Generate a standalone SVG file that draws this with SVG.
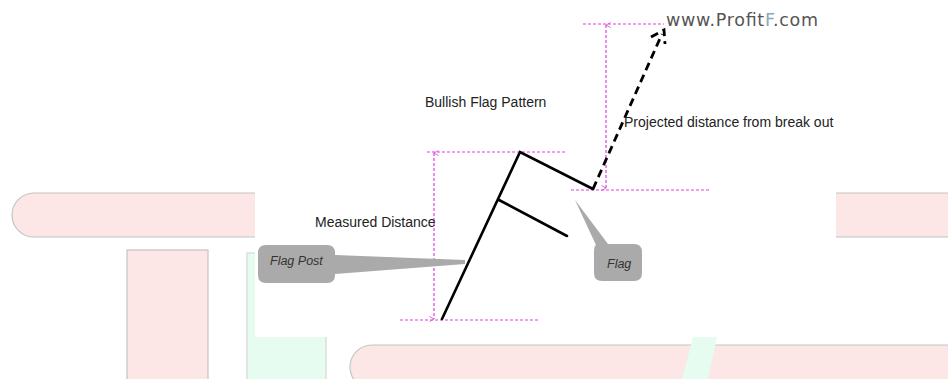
<svg xmlns="http://www.w3.org/2000/svg" width="948" height="379" viewBox="0 0 948 379">
<defs>
<style>
.pink{fill:#fde6e6;stroke:#c4c4c4;stroke-width:1.2}
.green{fill:#e6fcf0;stroke:#d0d0d0;stroke-width:1}
.dim{stroke:#e040e0;stroke-width:1.2;stroke-dasharray:3 2;fill:none}
.solid{stroke:#000;stroke-width:2.6;fill:none;stroke-linecap:round}
.dash{stroke:#000;stroke-width:2.8;fill:none;stroke-dasharray:8 5}
.lbl{font-family:"Liberation Sans",Arial,sans-serif;font-size:14px;fill:#222}
.call{fill:#aaaaaa}
.it{font-family:"Liberation Sans",Arial,sans-serif;font-size:12.5px;font-style:italic;fill:#333}
</style>
<marker id="dimarr" markerWidth="6" markerHeight="6" refX="3" refY="0.5" orient="auto-start-reverse" markerUnits="userSpaceOnUse" viewBox="0 0 6 6">
<path d="M0.5,5 L3,0.5 L5.5,5" fill="none" stroke="#e040e0" stroke-width="0.8"/>
</marker>
</defs>
<rect width="948" height="379" fill="#ffffff"/>
<g id="background">
<rect class="pink" x="12" y="193" width="960" height="44" rx="22"/>
<rect class="pink" x="127" y="250" width="81" height="160"/>
<rect class="green" x="247" y="253" width="79" height="160"/>
<rect class="pink" x="350" y="345" width="620" height="44" rx="22"/>
<polygon fill="#e6fcf0" points="693,337 717,337 708,379 682,379"/>
<rect x="255" y="0" width="581" height="337" fill="#ffffff"/>
</g>
<g id="connectors">
<line class="dim" x1="583" y1="24" x2="664" y2="24"/>
<line class="dim" x1="606" y1="25" x2="606" y2="188" marker-start="url(#dimarr)" marker-end="url(#dimarr)"/>
<line class="dim" x1="571" y1="190" x2="709" y2="190"/>
<line class="dim" x1="427" y1="152" x2="565" y2="152"/>
<line class="dim" x1="434" y1="153" x2="434" y2="319" marker-start="url(#dimarr)" marker-end="url(#dimarr)"/>
<line class="dim" x1="400" y1="320" x2="538" y2="320"/>
<polyline class="solid" points="442,319 520,152 593,189"/>
<line class="solid" x1="499" y1="200" x2="567" y2="236"/>
<line class="dash" x1="593" y1="189" x2="662" y2="34"/>
<polyline class="dash" points="651,37 664,30 665,44" stroke-dasharray="5 3"/>
</g>
<g id="title">
<text class="lbl" x="425" y="107">Bullish Flag Pattern</text>
</g>
<g id="projected-label">
<text class="lbl" x="624" y="127">Projected distance from break out</text>
</g>
<g id="measured-label">
<text class="lbl" x="315" y="227">Measured Distance</text>
</g>
<g id="watermark">
<text x="666" y="26" font-family="DejaVu Sans,Verdana,sans-serif" font-size="17.5" fill="#555" textLength="152" lengthAdjust="spacing">www.Profit<tspan fill="#8fa8b0">F</tspan>.com</text>
</g>
<g id="flag-post-callout">
<path class="call" d="M266,245 H327 Q335,245 335,253 L335,255 L465,260 L465,264 L335,274 V275 Q335,283 327,283 H266 Q258,283 258,275 V253 Q258,245 266,245 Z"/>
<text class="it" x="270" y="265">Flag Post</text>
</g>
<g id="flag-callout">
<path class="call" d="M575,200 L608,244 H634 Q642,244 642,252 V273 Q642,281 634,281 H602 Q594,281 594,273 V252 Q594,246 596,245 Z"/>
<text class="it" x="607" y="268">Flag</text>
</g>
</svg>
